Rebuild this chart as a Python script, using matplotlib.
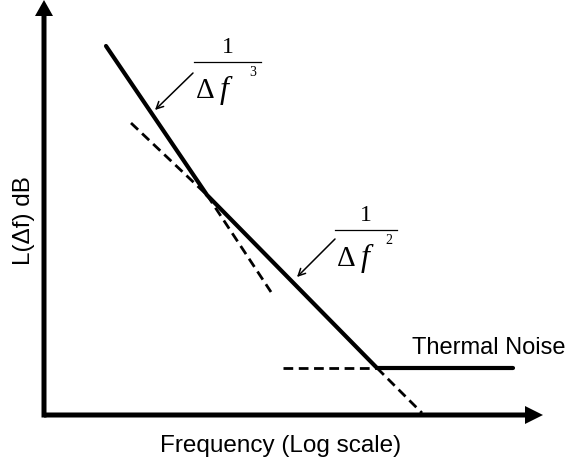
import numpy as np
import matplotlib
matplotlib.use("Agg")
import matplotlib.pyplot as plt

# phase noise asymptotes: log-frequency vs level (arbitrary units)
logf = [1.24, 3.26, 6.66, 9.38]
level = [7.38, 4.4, 0.94, 0.94]

# dashed extensions of each asymptote past its corner
ext_f2_back = ([1.74, 3.26], [5.84, 4.4])
ext_f3_fwd = ([3.26, 4.54], [4.4, 2.46])
ext_floor_back = ([4.78, 6.66], [0.94, 0.94])
ext_f2_fwd = ([6.66, 7.56], [0.94, 0.04])

sans = "Liberation Sans"
serif = "Liberation Serif"

fig = plt.figure(figsize=(5.68, 4.66), dpi=100)
ax = fig.add_axes([0, 0, 1, 1])
ax.set_xlim(-0.88, 10.48)
ax.set_ylim(-1.02, 8.3)
ax.axis("off")

# axes with arrow heads
ax.arrow(0, 0, 9.98, 0, width=0.1, head_width=0.36, head_length=0.36,
         length_includes_head=True, fc="k", ec="none")
ax.arrow(0, -0.05, 0, 8.35, width=0.1, head_width=0.36, head_length=0.32,
         length_includes_head=True, fc="k", ec="none")

ax.plot(logf, level, color="k", lw=3.0, solid_capstyle="round",
        solid_joinstyle="round")
for xs, ys in [ext_f2_back, ext_f3_fwd, ext_floor_back, ext_f2_fwd]:
    ax.plot(xs, ys, color="k", lw=2.0, dashes=(3.5, 2.0))

# slope labels
arrow_kw = dict(arrowstyle="->,head_length=0.5,head_width=0.25",
                color="k", lw=1.1, shrinkA=0, shrinkB=0)
ax.annotate("", xy=(2.22, 6.1), xytext=(2.98, 6.84), arrowprops=arrow_kw)
ax.annotate("", xy=(5.06, 2.76), xytext=(5.82, 3.52), arrowprops=arrow_kw)


def fraction(x0, x1, ybar, exp):
    xm = (x0 + x1) / 2
    ax.text(xm, ybar + 0.18, "1", family=serif, fontsize=17,
            ha="center", va="baseline")
    ax.plot([x0, x1], [ybar, ybar], color="k", lw=0.9)
    ax.text(x0 + 0.04, ybar - 0.72, "\u0394", family=serif, fontsize=21,
            ha="left", va="baseline")
    ax.text(x0 + 0.52, ybar - 0.72, "f", family=serif, style="italic",
            fontsize=23, ha="left", va="baseline")
    ax.text(x1 - 0.16, ybar - 0.2, exp, family=serif, fontsize=10,
            ha="center", va="center")


fraction(3.0, 4.34, 7.06, "3")
fraction(5.82, 7.06, 3.7, "2")

ax.text(7.36, 1.34, "Thermal Noise", family=sans, fontsize=17,
        ha="left", va="center")
ax.text(4.74, -0.62, "Frequency (Log scale)", family=sans, fontsize=17.5,
        ha="center", va="center")
ax.text(-0.4, 3.88, "L(\u0394f) dB", family=sans, fontsize=17.5,
        ha="center", va="center", rotation=90)

fig.savefig("out.png", dpi=100)
